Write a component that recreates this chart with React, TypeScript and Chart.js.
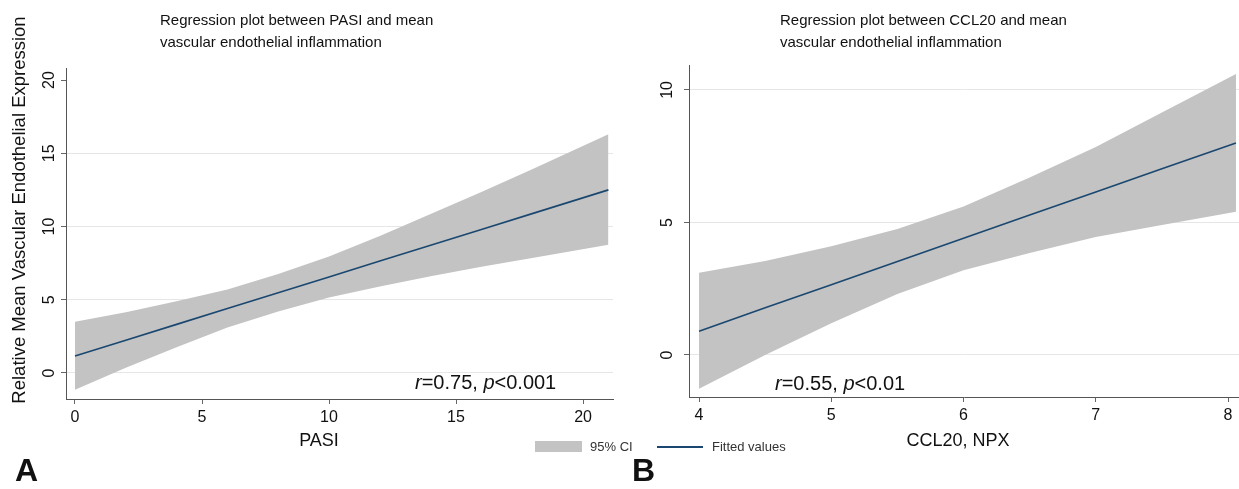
import React, { useEffect, useRef } from "react";
import { Chart, registerables } from "chart.js";
Chart.register(...registerables);

// ---- Panel A: PASI ----
const pasiX = [0, 2, 4, 6, 8, 10, 12, 14, 16, 18, 21];
const pasiFit = [1.16, 2.24, 3.32, 4.4, 5.48, 6.56, 7.64, 8.72, 9.8, 10.88, 12.5];
const pasiUpper = [3.5, 4.15, 4.9, 5.7, 6.75, 7.95, 9.35, 10.85, 12.35, 13.9, 16.3];
const pasiLower = [-1.15, 0.35, 1.75, 3.1, 4.2, 5.15, 5.9, 6.6, 7.25, 7.85, 8.75];
const pasiXTicks = [0, 5, 10, 15, 20];
const pasiYTicks = [0, 5, 10, 15, 20];

// ---- Panel B: CCL20 ----
const cclX = [4, 4.5, 5, 5.5, 6, 6.5, 7, 7.5, 8.06];
const cclFit = [0.9, 1.78, 2.65, 3.53, 4.4, 5.28, 6.15, 7.03, 8.0];
const cclUpper = [3.1, 3.55, 4.1, 4.75, 5.6, 6.7, 7.85, 9.15, 10.6];
const cclLower = [-1.27, 0.0, 1.2, 2.3, 3.2, 3.85, 4.45, 4.9, 5.4];
const cclXTicks = [4, 5, 6, 7, 8];
const cclYTicks = [0, 5, 10];

const FONT = '"Liberation Sans", Arial, Helvetica, sans-serif';
const BAND = "#c3c3c3";
const NAVY = "#1a476f";

const rotYLabels = {
  id: "rotYLabels",
  afterDraw(chart: any, _args: any, opts: any) {
    const s = chart.scales.y;
    const ctx = chart.ctx;
    ctx.save();
    ctx.font = `16px ${FONT}`;
    ctx.fillStyle = "#111";
    ctx.textAlign = "center";
    ctx.textBaseline = "middle";
    s.ticks.forEach((t: any) => {
      const y = s.getPixelForValue(t.value);
      ctx.save();
      ctx.translate(s.right - opts.offset, y);
      ctx.rotate(-Math.PI / 2);
      ctx.fillText(String(t.value), 0, 0);
      ctx.restore();
    });
    ctx.restore();
  },
};

type PanelProps = {
  xs: number[];
  fit: number[];
  upper: number[];
  lower: number[];
  xTicks: number[];
  yTicks: number[];
  xMin: number;
  xMax: number;
  yMin: number;
  yMax: number;
  left: number;
  width: number;
  yAxisWidth: number;
  xAxisHeight: number;
  padTop: number;
  padRight: number;
  labelOffset: number;
  noGrid: number[];
};

function Panel(p: PanelProps) {
  const ref = useRef<HTMLCanvasElement | null>(null);
  useEffect(() => {
    if (!ref.current) return;
    const pts = (ys: number[]) => p.xs.map((x, i) => ({ x, y: ys[i] }));
    const chart = new Chart(ref.current, {
      type: "line",
      data: {
        datasets: [
          {
            label: "95% CI",
            data: pts(p.upper),
            borderWidth: 0,
            borderColor: "rgba(0,0,0,0)",
            backgroundColor: BAND,
            pointRadius: 0,
            fill: "+1",
            tension: 0,
            order: 2,
          },
          {
            label: "lower",
            data: pts(p.lower),
            borderWidth: 0,
            borderColor: "rgba(0,0,0,0)",
            pointRadius: 0,
            fill: false,
            tension: 0,
            order: 3,
          },
          {
            label: "Fitted values",
            data: pts(p.fit),
            borderWidth: 1.6,
            borderColor: NAVY,
            pointRadius: 0,
            fill: false,
            tension: 0,
            order: 0,
          },
        ],
      },
      options: {
        animation: false,
        responsive: false,
        layout: { padding: { left: 0, top: p.padTop, right: p.padRight, bottom: 0 } },
        plugins: {
          legend: { display: false },
          tooltip: { enabled: false },
          rotYLabels: { offset: p.labelOffset },
        } as any,
        scales: {
          x: {
            type: "linear",
            min: p.xMin,
            max: p.xMax,
            afterBuildTicks: (s: any) => {
              s.ticks = p.xTicks.map((v) => ({ value: v }));
            },
            afterFit: (s: any) => {
              s.height = p.xAxisHeight;
            },
            grid: {
              drawOnChartArea: false,
              drawTicks: true,
              tickLength: 5,
              tickColor: "#666",
            },
            border: { color: "#555", width: 1 },
            ticks: {
              font: { family: FONT, size: 16 },
              color: "#111",
              padding: 4,
              maxRotation: 0,
              autoSkip: false,
            },
          },
          y: {
            type: "linear",
            min: p.yMin,
            max: p.yMax,
            afterBuildTicks: (s: any) => {
              s.ticks = p.yTicks.map((v) => ({ value: v }));
            },
            afterFit: (s: any) => {
              s.width = p.yAxisWidth;
            },
            grid: {
              color: (c: any) =>
                c.tick && p.noGrid.includes(c.tick.value) ? "rgba(0,0,0,0)" : "#e6e6e6",
              tickColor: "#666",
              tickLength: 5,
              lineWidth: 1,
            },
            border: { color: "#555", width: 1 },
            ticks: { display: false },
          },
        },
      },
      plugins: [rotYLabels],
    });
    return () => chart.destroy();
  }, []);
  return (
    <canvas
      ref={ref}
      width={p.width}
      height={489}
      style={{ position: "absolute", left: p.left, top: 0, width: p.width, height: 489 }}
    />
  );
}

const abs = (s: React.CSSProperties): React.CSSProperties => ({ position: "absolute", whiteSpace: "nowrap", ...s });

export default function App() {
  return (
    <div
      style={{
        position: "absolute",
        left: 0,
        top: 0,
        width: 1239,
        height: 489,
        background: "#fff",
        overflow: "hidden",
        fontFamily: FONT,
        color: "#111",
      }}
    >
      <Panel
        xs={pasiX}
        fit={pasiFit}
        upper={pasiUpper}
        lower={pasiLower}
        xTicks={pasiXTicks}
        yTicks={pasiYTicks}
        xMin={-0.354}
        xMax={21.18}
        yMin={-1.775}
        yMax={20.82}
        left={0}
        width={630}
        yAxisWidth={66}
        xAxisHeight={90}
        padTop={68}
        padRight={17}
        labelOffset={16}
        noGrid={[20]}
      />
      <Panel
        xs={cclX}
        fit={cclFit}
        upper={cclUpper}
        lower={cclLower}
        xTicks={cclXTicks}
        yTicks={cclYTicks}
        xMin={3.924}
        xMax={8.083}
        yMin={-1.585}
        yMax={10.94}
        left={630}
        width={609}
        yAxisWidth={59}
        xAxisHeight={92}
        padTop={65}
        padRight={0}
        labelOffset={21}
        noGrid={[]}
      />

      {/* Titles */}
      <div style={abs({ left: 160, top: 9, fontSize: 15, lineHeight: "22px" })}>
        Regression plot between PASI and mean
        <br />
        vascular endothelial inflammation
      </div>
      <div style={abs({ left: 780, top: 9, fontSize: 15, lineHeight: "22px" })}>
        Regression plot between CCL20 and mean
        <br />
        vascular endothelial inflammation
      </div>

      {/* Y axis title */}
      <div
        style={abs({
          left: 19 - 210,
          top: 210 - 11,
          width: 420,
          height: 22,
          lineHeight: "22px",
          fontSize: 18.5,
          textAlign: "center",
          transform: "rotate(-90deg)",
          transformOrigin: "50% 50%",
        })}
      >
        Relative Mean Vascular Endothelial Expression
      </div>

      {/* X axis titles */}
      <div style={abs({ left: 319 - 100, top: 440 - 11, width: 200, lineHeight: "22px", fontSize: 18, textAlign: "center" })}>
        PASI
      </div>
      <div style={abs({ left: 958 - 100, top: 440 - 11, width: 200, lineHeight: "22px", fontSize: 18, textAlign: "center" })}>
        CCL20, NPX
      </div>

      {/* Annotations */}
      <div style={abs({ left: 415, top: 382 - 11, lineHeight: "22px", fontSize: 20 })}>
        <i>r</i>=0.75, <i>p</i>&lt;0.001
      </div>
      <div style={abs({ left: 775, top: 383 - 11, lineHeight: "22px", fontSize: 20 })}>
        <i>r</i>=0.55, <i>p</i>&lt;0.01
      </div>

      {/* Legend */}
      <div style={abs({ left: 535, top: 441, width: 47, height: 11, background: BAND })} />
      <div style={abs({ left: 590, top: 447 - 8, lineHeight: "16px", fontSize: 13, color: "#333" })}>95% CI</div>
      <div style={abs({ left: 657, top: 446, width: 46, height: 1.5, background: NAVY })} />
      <div style={abs({ left: 712, top: 447 - 8, lineHeight: "16px", fontSize: 13, color: "#333" })}>Fitted values</div>

      {/* Panel letters */}
      <div style={abs({ left: 15, top: 454, lineHeight: "32px", fontSize: 32, fontWeight: 700 })}>A</div>
      <div style={abs({ left: 632, top: 454, lineHeight: "32px", fontSize: 32, fontWeight: 700 })}>B</div>
    </div>
  );
}
